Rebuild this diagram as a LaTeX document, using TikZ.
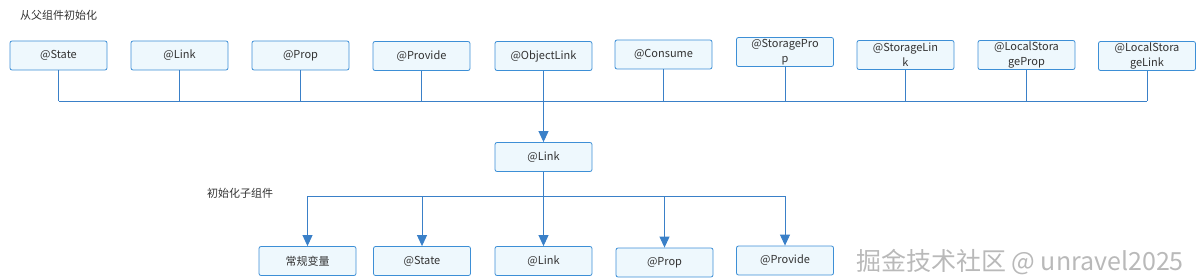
\documentclass[tikz,border=0pt]{standalone}
\usepackage{fontspec}
\setmainfont{Noto Sans CJK SC}
\usepackage{tikz}
\usetikzlibrary{arrows.meta}
\definecolor{boxline}{HTML}{3D8FD6}
\definecolor{boxfill}{HTML}{EEF8FD}
\definecolor{wire}{HTML}{3A80C8}
\definecolor{txt}{HTML}{333333}

\begin{document}
\begin{tikzpicture}[x=1pt, y=-1pt, >={Triangle[width=10pt,length=11pt]},
  attr/.style={draw=boxline, fill=boxfill, rounded corners=2pt, line width=0.8pt,
    minimum width=97pt, minimum height=29pt, inner sep=0pt, align=center,
    text=txt, font=\fontsize{11}{15}\selectfont},
  wire/.style={draw=wire, line width=0.9pt},
  caption/.style={text=txt, font=\fontsize{11}{13}\selectfont, inner sep=0pt, anchor=west},]
\useasboundingbox (0,0) rectangle (1196,278);
\node[caption] (t1) at (20, 15) {从父组件初始化};
\node[caption] (t2) at (207, 193) {初始化子组件};
% parent side
\node[attr] (p1) at (58.5, 55.5)  {@State};
\node[attr] (p2) at (179.5, 55.5) {@Link};
\node[attr] (p3) at (300.5, 55.5) {@Prop};
\node[attr] (p4) at (421.5, 56)   {@Provide};
\node[attr] (p5) at (543.5, 56)   {@ObjectLink};
\node[attr] (p6) at (663.5, 54.5) {@Consume};
\node[attr] (p7) at (785, 52)     {@StoragePro\\p};
\node[attr] (p8) at (905.5, 55)   {@StorageLin\\k};
\node[attr] (p9) at (1026.5, 55)  {@LocalStora\\geProp};
\node[attr] (p10) at (1147, 56)   {@LocalStora\\geLink};
\node[attr] (m) at (543.5, 157)   {@Link};
% child side
\node[attr] (c1) at (307.5, 261) {常规变量};
\node[attr] (c2) at (422, 261)   {@State};
\node[attr] (c3) at (543.5, 261) {@Link};
\node[attr] (c4) at (664.5, 262.5) {@Prop};
\node[attr] (c5) at (785, 260.5) {@Provide};
\coordinate (bus) at (0, 101);
\coordinate (sub) at (0, 196);
 \draw[wire] (p1.south) -- (p1 |- bus);
 \draw[wire] (p2.south) -- (p2 |- bus);
 \draw[wire] (p3.south) -- (p3 |- bus);
 \draw[wire] (p4.south) -- (p4 |- bus);
 \draw[wire] (p6.south) -- (p6 |- bus);
 \draw[wire] (p7.south) -- (p7 |- bus);
 \draw[wire] (p8.south) -- (p8 |- bus);
 \draw[wire] (p9.south) -- (p9 |- bus);
 \draw[wire] (p10.south) -- (p10 |- bus);
 \draw[wire] (p1 |- bus) -- (p10 |- bus);
 \draw[wire, ->] (p5.south) -- (m.north);
 \draw[wire] (m.south) -- (m |- sub);
 \draw[wire] (c1 |- sub) -- (c5 |- sub);
  \draw[wire, ->] (c1 |- sub) -- (c1.north);
  \draw[wire, ->] (c2 |- sub) -- (c2.north);
  \draw[wire, ->] (m |- sub) -- (c3.north);
  \draw[wire, ->] (c4 |- sub) -- (c4.north);
  \draw[wire, ->] (c5 |- sub) -- (c5.north);
\node[text=gray!55, font=\fontsize{25}{27}\selectfont, inner sep=0pt, anchor=east] (wm) at (1184, 262) {掘金技术社区 @ unravel2025};
\end{tikzpicture}
\end{document}
